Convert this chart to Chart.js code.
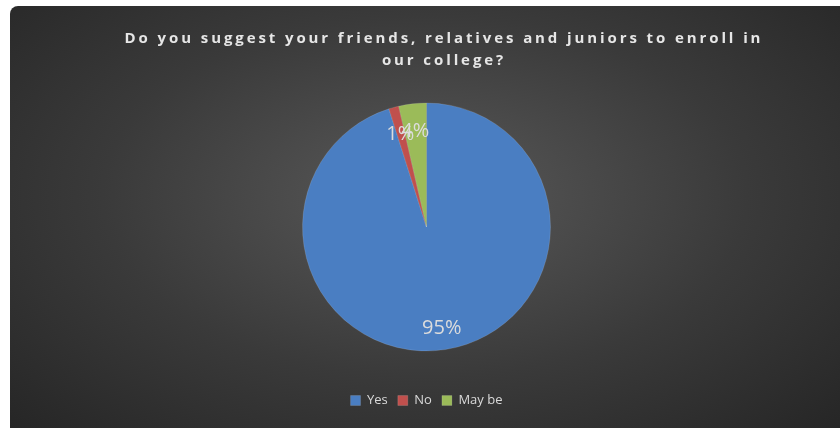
<!DOCTYPE html>
<html>
<head>
<meta charset="utf-8">
<script src="https://cdn.jsdelivr.net/npm/chart.js@4"></script>
<style>
    html, body { margin: 0; padding: 0; background: #fff; }
    body { width: 840px; height: 428px; position: relative; overflow: hidden; }
    #panel {
        position: absolute; left: 10px; top: 6px; width: 830px; height: 422px;
        border-top-left-radius: 8px;
        background: radial-gradient(ellipse farthest-corner at 50% 45%, #595959 0%, #3a3a3a 55%, #262626 100%);
    }
    #title {
        position: absolute; left: 24px; top: 20px; width: 820px;
        text-align: center; color: #e6e6e6;
        font: bold 15px "Open Sans", sans-serif; letter-spacing: 2.9px; line-height: 22px;
    }
    #chart { position: absolute; left: 0; top: 0; }
</style>
</head>
<body>
<div id="panel">
    <canvas id="chart" width="830" height="422"></canvas>
    <div id="title">Do you suggest your friends, relatives and juniors to enroll in<br>our college?</div>
</div>
<script>
// 資料
const categories = ['Yes', 'No', 'May be'];
const shares = [95.1, 1.3, 3.6];
const sliceColors = ['#4a7ec2', '#c0504d', '#9bbb59'];

// 扇形內的百分比標籤
const pctLabels = {
    id: 'pctLabels',
    afterDatasetsDraw(chart) {
        const ctx = chart.ctx;
        const meta = chart.getDatasetMeta(0);
        const total = shares.reduce((a, b) => a + b, 0);
        ctx.save();
        ctx.font = '20px "Open Sans", sans-serif';
        ctx.fillStyle = '#dcdcdc';
        ctx.textAlign = 'center';
        ctx.textBaseline = 'middle';
        meta.data.forEach((arc, i) => {
            const p = arc.getProps(['x', 'y', 'startAngle', 'endAngle', 'outerRadius'], true);
            const mid = (p.startAngle + p.endAngle) / 2;
            const r = p.outerRadius * 0.8;
            const txt = Math.round(shares[i] / total * 100) + '%';
            ctx.fillText(txt, p.x + Math.cos(mid) * r, p.y + Math.sin(mid) * r + 3);
        });
        ctx.restore();
    }
};

new Chart(document.getElementById('chart').getContext('2d'), {
    type: 'pie',
    data: {
        labels: categories,
        datasets: [{
            data: shares,
            backgroundColor: sliceColors,
            borderColor: 'rgba(255,255,255,0.25)',
            borderWidth: 0.5,
            radius: 124
        }]
    },
    options: {
        responsive: false,
        animation: false,
        layout: { padding: { top: 64, bottom: 11, left: 3 } },
        plugins: {
            tooltip: { enabled: false },
            legend: {
                position: 'bottom',
                labels: {
                    color: '#d9d9d9',
                    font: { family: '"Open Sans", sans-serif', size: 13 },
                    boxWidth: 10,
                    boxHeight: 10,
                    padding: 10
                }
            }
        }
    },
    plugins: [pctLabels]
});
</script>
</body>
</html>
